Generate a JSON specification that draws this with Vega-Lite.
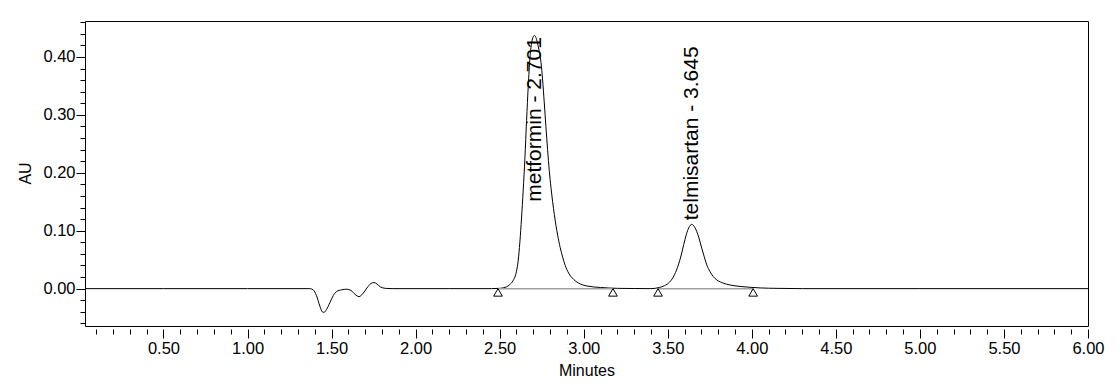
{
  "$schema": "https://vega.github.io/schema/vega-lite/v6.json",
  "width": 1003,
  "height": 305,
  "autosize": {"type": "none"},
  "padding": {"left": 85, "top": 21, "right": 32, "bottom": 59},
  "background": "white",
  "config": {
    "view": {"stroke": "#000", "strokeWidth": 1},
    "font": "Liberation Sans",
    "axis": {"labelFont": "Liberation Sans", "titleFont": "Liberation Sans", "labelColor": "#000", "titleColor": "#000", "tickColor": "#000", "domainColor": "#000", "titleFontWeight": "normal", "grid": false}
  },
  "datasets": {
    "trace": [
      {"t": 0.033, "au": 0.0}, {"t": 0.5, "au": 0.0}, {"t": 1.0, "au": 0.0}, {"t": 1.3, "au": 0.0},
      {"t": 1.37, "au": 0.0}, {"t": 1.39, "au": -0.002}, {"t": 1.41, "au": -0.012}, {"t": 1.43, "au": -0.03},
      {"t": 1.445, "au": -0.04}, {"t": 1.455, "au": -0.041}, {"t": 1.47, "au": -0.036}, {"t": 1.49, "au": -0.024},
      {"t": 1.51, "au": -0.012}, {"t": 1.53, "au": -0.005}, {"t": 1.56, "au": -0.002}, {"t": 1.59, "au": -0.001},
      {"t": 1.615, "au": -0.003}, {"t": 1.64, "au": -0.01}, {"t": 1.663, "au": -0.0138}, {"t": 1.685, "au": -0.009},
      {"t": 1.71, "au": 0.001}, {"t": 1.735, "au": 0.009}, {"t": 1.752, "au": 0.0105}, {"t": 1.77, "au": 0.008},
      {"t": 1.79, "au": 0.003}, {"t": 1.82, "au": 0.0005}, {"t": 1.86, "au": 0.0}, {"t": 2.2, "au": 0.0},
      {"t": 2.45, "au": 0.0}, {"t": 2.5, "au": 0.0005}, {"t": 2.54, "au": 0.003}, {"t": 2.56, "au": 0.007},
      {"t": 2.58, "au": 0.014}, {"t": 2.6, "au": 0.03}, {"t": 2.61, "au": 0.048}, {"t": 2.62, "au": 0.08},
      {"t": 2.63, "au": 0.122}, {"t": 2.64, "au": 0.17}, {"t": 2.65, "au": 0.225}, {"t": 2.66, "au": 0.29},
      {"t": 2.67, "au": 0.35}, {"t": 2.68, "au": 0.398}, {"t": 2.69, "au": 0.424}, {"t": 2.7, "au": 0.435},
      {"t": 2.706, "au": 0.437}, {"t": 2.715, "au": 0.434}, {"t": 2.725, "au": 0.424}, {"t": 2.735, "au": 0.41},
      {"t": 2.746, "au": 0.39}, {"t": 2.755, "au": 0.362}, {"t": 2.765, "au": 0.322}, {"t": 2.775, "au": 0.28},
      {"t": 2.785, "au": 0.24}, {"t": 2.795, "au": 0.204}, {"t": 2.805, "au": 0.175}, {"t": 2.815, "au": 0.15},
      {"t": 2.825, "au": 0.128}, {"t": 2.835, "au": 0.109}, {"t": 2.845, "au": 0.092}, {"t": 2.86, "au": 0.071},
      {"t": 2.875, "au": 0.054}, {"t": 2.89, "au": 0.04}, {"t": 2.91, "au": 0.027}, {"t": 2.94, "au": 0.016},
      {"t": 2.98, "au": 0.008}, {"t": 3.02, "au": 0.0045},
      {"t": 3.1, "au": 0.002}, {"t": 3.2, "au": 0.0005}, {"t": 3.3, "au": 0.0002}, {"t": 3.4, "au": 0.0},
      {"t": 3.45, "au": 0.002}, {"t": 3.48, "au": 0.005}, {"t": 3.51, "au": 0.011}, {"t": 3.54, "au": 0.024},
      {"t": 3.563, "au": 0.041}, {"t": 3.58, "au": 0.058}, {"t": 3.595, "au": 0.076}, {"t": 3.61, "au": 0.093},
      {"t": 3.625, "au": 0.105}, {"t": 3.643, "au": 0.111}, {"t": 3.66, "au": 0.106}, {"t": 3.672, "au": 0.099},
      {"t": 3.685, "au": 0.088}, {"t": 3.702, "au": 0.07}, {"t": 3.717, "au": 0.055}, {"t": 3.732, "au": 0.041},
      {"t": 3.75, "au": 0.03}, {"t": 3.77, "au": 0.021}, {"t": 3.792, "au": 0.015}, {"t": 3.83, "au": 0.0095},
      {"t": 3.87, "au": 0.0063}, {"t": 3.93, "au": 0.0038}, {"t": 3.99, "au": 0.0023}, {"t": 4.05, "au": 0.0012},
      {"t": 4.15, "au": 0.0005}, {"t": 4.3, "au": 0.0}, {"t": 5.0, "au": 0.0}, {"t": 6.0, "au": 0.0}
    ],
    "baselines": [
      {"start": 2.49, "end": 3.174, "level": 0.0},
      {"start": 3.442, "end": 4.008, "level": 0.0}
    ],
    "markers": [
      {"t": 2.49, "au": -0.0065},
      {"t": 3.174, "au": -0.0065},
      {"t": 3.442, "au": -0.0065},
      {"t": 4.008, "au": -0.0065}
    ],
    "peaks": [
      {"label": "metformin - 2.701", "t": 2.711, "au": 0.15},
      {"label": "telmisartan - 3.645", "t": 3.645, "au": 0.118}
    ]
  },
  "layer": [
    {
      "data": {"name": "trace"},
      "mark": {"type": "line", "color": "#000", "strokeWidth": 1, "interpolate": "monotone", "clip": true},
      "encoding": {
        "x": {
          "field": "t", "type": "quantitative",
          "scale": {"domain": [0.033, 6.0], "nice": false, "zero": false},
          "axis": {
            "title": "Minutes",
            "titleFontSize": 16,
            "titleX": 501.5,
            "titleY": 41,
            "titleBaseline": "middle",
            "titleAlign": "center",
            "domain": false,
            "offset": 3,
            "tickCount": 200,
            "values": [0.1,0.2,0.3,0.4,0.5,0.6,0.7,0.8,0.9,1.0,1.1,1.2,1.3,1.4,1.5,1.6,1.7,1.8,1.9,2.0,2.1,2.2,2.3,2.4,2.5,2.6,2.7,2.8,2.9,3.0,3.1,3.2,3.3,3.4,3.5,3.6,3.7,3.8,3.9,4.0,4.1,4.2,4.3,4.4,4.5,4.6,4.7,4.8,4.9,5.0,5.1,5.2,5.3,5.4,5.5,5.6,5.7,5.8,5.9,6.0],
            "labelExpr": "abs(datum.value*2 - round(datum.value*2)) < 0.001 ? format(datum.value, '.2f') : ''",
            "labelOverlap": false,
            "labelBound": false,
            "labelFlush": false,
            "labelFontSize": 16.5,
            "labelPadding": 2,
            "tickWidth": 1,
            "tickSize": {"condition": {"test": "abs(datum.value*2 - round(datum.value*2)) < 0.001", "value": 9}, "value": 5}
          }
        },
        "y": {
          "field": "au", "type": "quantitative",
          "scale": {"domain": [-0.0645, 0.462], "nice": false, "zero": false},
          "axis": {
            "title": "AU",
            "titleFontSize": 16,
            "titleX": -60,
            "titleY": 152,
            "titleAngle": 270,
            "titleBaseline": "middle",
            "titleAlign": "center",
            "domain": false,
            "tickCount": 200,
            "values": [-0.06,-0.04,-0.02,0,0.02,0.04,0.06,0.08,0.1,0.12,0.14,0.16,0.18,0.2,0.22,0.24,0.26,0.28,0.3,0.32,0.34,0.36,0.38,0.4,0.42,0.44,0.46],
            "labelExpr": "abs(datum.value*10 - round(datum.value*10)) < 0.001 ? format(datum.value, '.2f') : ''",
            "labelOverlap": false,
            "labelBound": false,
            "labelFlush": false,
            "labelFontSize": 16.5,
            "labelPadding": 1,
            "tickWidth": 1,
            "tickSize": {"condition": {"test": "abs(datum.value*10 - round(datum.value*10)) < 0.001", "value": 9}, "value": 5}
          }
        }
      }
    },
    {
      "data": {"name": "baselines"},
      "mark": {"type": "rule", "color": "#a0a0a0", "strokeWidth": 1.5},
      "encoding": {
        "x": {"field": "start", "type": "quantitative"},
        "x2": {"field": "end"},
        "y": {"field": "level", "type": "quantitative"}
      }
    },
    {
      "data": {"name": "markers"},
      "mark": {"type": "point", "shape": "triangle-up", "filled": false, "color": "#000", "opacity": 1, "strokeWidth": 1, "size": 75},
      "encoding": {
        "x": {"field": "t", "type": "quantitative"},
        "y": {"field": "au", "type": "quantitative"}
      }
    },
    {
      "data": {"name": "peaks"},
      "mark": {"type": "text", "angle": 270, "align": "left", "baseline": "middle", "fontSize": 21, "font": "Liberation Sans", "color": "#000"},
      "encoding": {
        "x": {"field": "t", "type": "quantitative"},
        "y": {"field": "au", "type": "quantitative"},
        "text": {"field": "label"}
      }
    }
  ]
}
